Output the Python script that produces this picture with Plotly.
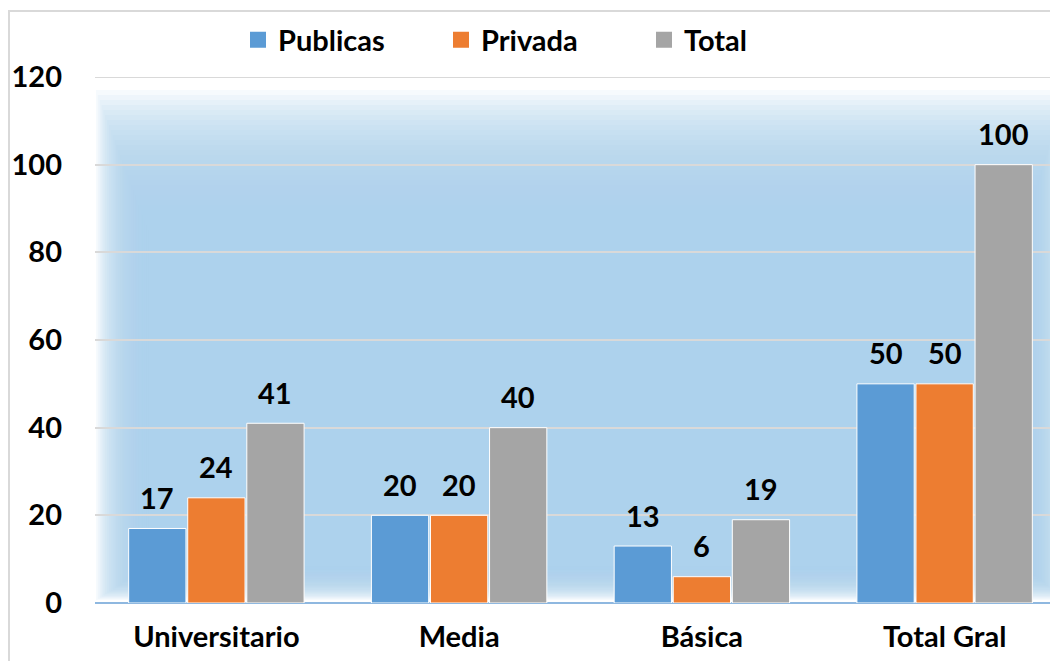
import plotly.graph_objects as go

categories = ["Universitario", "Media", "Básica", "Total Gral"]
publicas = [17, 20, 13, 50]
privada = [24, 20, 6, 50]
total = [41, 40, 19, 100]
series_names = ["Publicas", "Privada", "Total"]
colors = ["#5b9bd5", "#ed7d31", "#a5a5a5"]
y_ticks = [0, 20, 40, 60, 80, 100, 120]

W, H = 1058, 661
OFF = 8  # page body margin
ML, MR, MT, MB = 87, 0, 69, 66
PW, PH = W - ML - MR, H - MT - MB

def px_x(p):
    return (p - OFF - ML) / PW

def px_y(p):
    return (H - MB - (p - OFF)) / PH

FONT = "Lato"
FS = 29
fig = go.Figure()
for name, vals, col in zip(series_names, [publicas, privada, total], colors):
    fig.add_trace(go.Bar(
        name=name, x=categories, y=vals, showlegend=False,
        marker=dict(color=col, line=dict(color="white", width=1)),
    ))
# legend entries with larger square swatches
for name, col in zip(series_names, colors):
    fig.add_trace(go.Scatter(
        name=name, x=[None], y=[None], mode="markers",
        marker=dict(symbol="square", size=16, color=col), showlegend=True,
    ))

# data labels
bargap = 0.27
slot = (PW / len(categories)) * (1 - bargap) / 3
for i, vals in enumerate([publicas, privada, total]):
    for c, v in zip(categories, vals):
        fig.add_annotation(x=c, y=v, text=str(v), showarrow=False,
                           xshift=(i - 1) * slot, yshift=31,
                           font=dict(family=FONT, size=FS, color="black", weight="bold"))

shapes = []
# blue glow background (nested translucent rects)
N = 30
outer = (96, 90, 1066, 600)
inner = (150, 235, 1022, 565)
for k in range(N):
    t = k / (N - 1)
    x0 = outer[0] + (inner[0] - outer[0]) * t
    y0 = outer[1] + (inner[1] - outer[1]) * t
    x1 = outer[2] + (inner[2] - outer[2]) * t
    y1 = outer[3] + (inner[3] - outer[3]) * t
    shapes.append(dict(type="rect", xref="paper", yref="paper",
                       x0=px_x(x0), x1=px_x(x1), y0=px_y(y1), y1=px_y(y0),
                       fillcolor="#b0d0ec", opacity=0.11, line=dict(width=0),
                       layer="below"))
# top gridline at 120
shapes.append(dict(type="line", xref="paper", yref="y", x0=0, x1=1,
                   y0=y_ticks[-1], y1=y_ticks[-1],
                   line=dict(color="#d9d9d9", width=2), layer="below"))
# outer frame
shapes.append(dict(type="rect", xref="paper", yref="paper",
                   x0=px_x(9), x1=px_x(1100), y0=px_y(700), y1=px_y(11),
                   line=dict(color="#d9d9d9", width=2), fillcolor="rgba(0,0,0,0)",
                   layer="below"))

fig.update_layout(
    width=W, height=H,
    margin=dict(l=ML, r=MR, t=MT, b=MB, autoexpand=False),
    paper_bgcolor="white", plot_bgcolor="rgba(0,0,0,0)",
    barmode="group", bargap=bargap, bargroupgap=0.03,
    font=dict(family=FONT, color="black"),
    legend=dict(orientation="h", x=px_x(238), xanchor="left",
                y=px_y(40), yanchor="middle",
                font=dict(family=FONT, size=FS, weight="bold"),
                entrywidth=158, itemwidth=30, bgcolor="rgba(0,0,0,0)"),
    shapes=shapes,
)
fig.update_xaxes(showgrid=False, showline=False, zeroline=False,
                 tickfont=dict(family=FONT, size=FS, weight="bold"),
                 ticks="", ticklabelstandoff=14)
fig.update_yaxes(range=[0, 120], tickvals=y_ticks, showgrid=True,
                 gridcolor="#d9d9d9", gridwidth=2,
                 zeroline=True, zerolinecolor="#8fb8e0", zerolinewidth=2,
                 tickfont=dict(family=FONT, size=FS, weight="bold"),
                 ticks="", ticklabelstandoff=32, showline=False)

fig.write_html("out.html")
